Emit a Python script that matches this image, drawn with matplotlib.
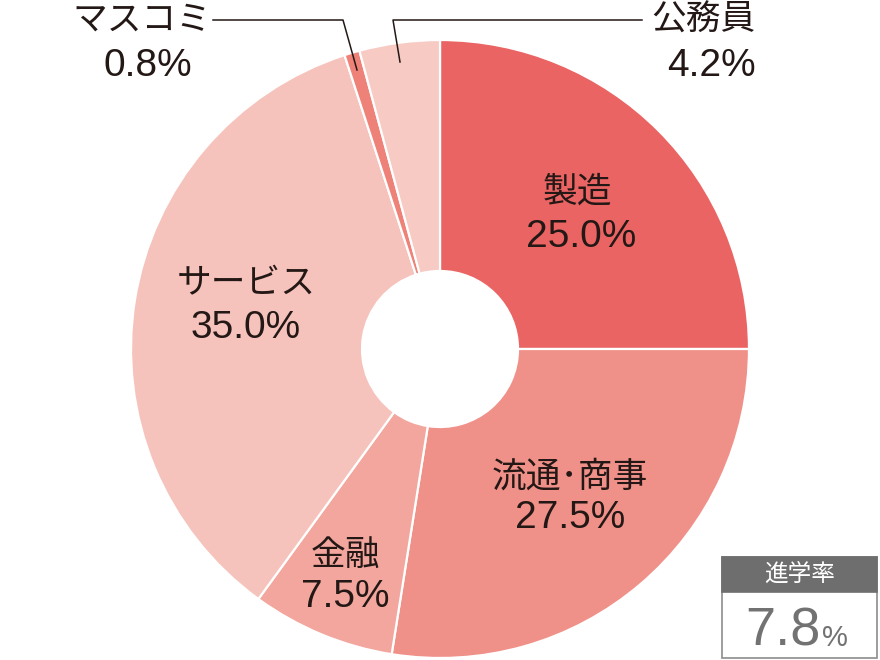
import matplotlib.pyplot as plt
import matplotlib.patches as mpatches

plt.rcParams['font.family'] = ['Liberation Sans', 'Noto Sans CJK JP', 'DejaVu Sans']

# data
labels = ['製造', '流通･商事', '金融', 'サービス', 'マスコミ', '公務員']
shares = [25.0, 27.5, 7.5, 35.0, 0.8, 4.2]
colors = ['#EB6464', '#F09189', '#F2A69D', '#F6C3BC', '#EE8279', '#F7CBC4']
rate_title = '進学率'
rate_value = 7.8

W, H = 880, 660
TXT = '#231815'
NAME_FS, PCT_FS = 25, 28


def Y(y):
    return H - y


fig = plt.figure(figsize=(W / 100, H / 100), dpi=100)
ax = fig.add_axes([0, 0, 1, 1])

cx, cy, r_out, r_in = 440, 349, 309, 78
ax.pie(shares, colors=colors, startangle=90, counterclock=False,
       center=(cx, Y(cy)), radius=r_out,
       wedgeprops=dict(width=r_out - r_in, edgecolor='white', linewidth=1.6))
ax.set_xlim(0, W)
ax.set_ylim(0, H)
ax.set_aspect('equal')
ax.axis('off')

# labels inside the ring
inside = {0: (577, 192, 237), 1: (570, 477, 518), 2: (345, 555, 597), 3: (246, 284, 328)}
pct_x = {0: 581}
for i, (x, y1, y2) in inside.items():
    ax.text(x, Y(y1), labels[i], ha='center', va='center', fontsize=NAME_FS, color=TXT)
    ax.text(pct_x.get(i, x), Y(y2), f'{shares[i]:.1f}%', ha='center', va='center',
            fontsize=PCT_FS, color=TXT)

# outside labels with leader lines
ax.text(142, Y(20), labels[4], ha='center', va='center', fontsize=NAME_FS, color=TXT)
ax.text(148, Y(66), f'{shares[4]:.1f}%', ha='center', va='center', fontsize=PCT_FS, color=TXT)
ax.plot([213, 343, 357], [Y(20), Y(20), Y(70)], color=TXT, lw=1.1)

ax.text(703, Y(20), labels[5], ha='center', va='center', fontsize=NAME_FS, color=TXT)
ax.text(711, Y(66), f'{shares[5]:.1f}%', ha='center', va='center', fontsize=PCT_FS, color=TXT)
ax.plot([400, 393, 642], [Y(62), Y(20), Y(20)], color=TXT, lw=1.1)

# rate box
ax.add_patch(mpatches.Rectangle((722, Y(658)), 155, 101, facecolor='white',
                                edgecolor='#8C8C8C', lw=1.2))
ax.add_patch(mpatches.Rectangle((722, Y(592)), 155, 35, facecolor='#6E6E6E',
                                edgecolor='#6E6E6E', lw=1.2))
ax.text(800, Y(575), rate_title, ha='center', va='center', fontsize=17, color='white')
ax.text(821, Y(646), f'{rate_value:.1f}', ha='right', va='baseline', fontsize=39,
        color='#727272')
ax.text(822, Y(646), '%', ha='left', va='baseline', fontsize=21, color='#727272')

fig.savefig('out.png', dpi=100)
